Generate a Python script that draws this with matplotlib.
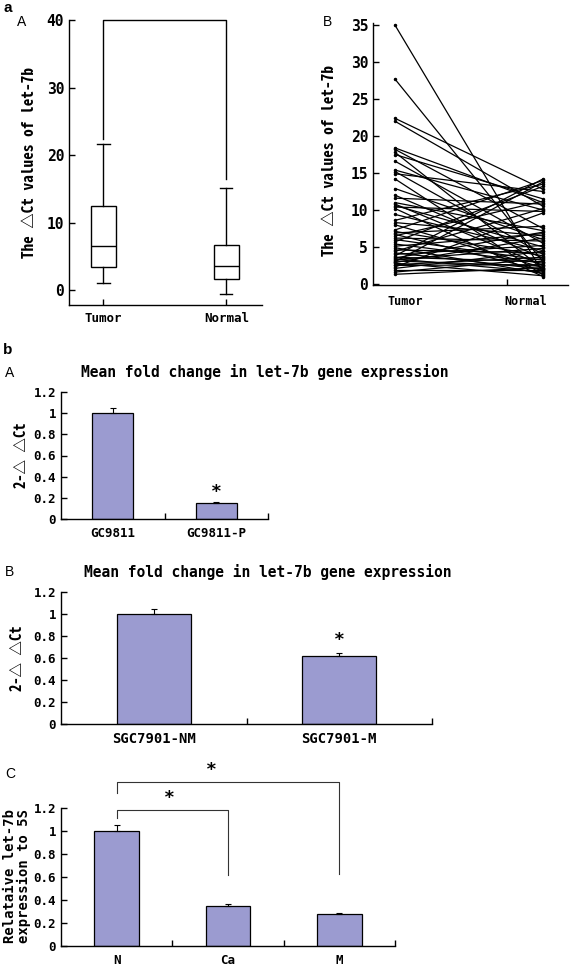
import matplotlib
matplotlib.use('Agg')
import matplotlib.pyplot as plt
import numpy as np

plt.rcParams['font.family'] = ['DejaVu Sans Mono', 'DejaVu Sans']
plt.rcParams['font.weight'] = 'bold'
plt.rcParams['axes.linewidth'] = 1.0

W, H = 570, 968
BAR = '#9b9bd0'
CJK = ['Noto Sans Mono CJK SC', 'Noto Sans CJK SC', 'DejaVu Sans']

# ---- data ----
box_groups = ['Tumor', 'Normal']
box_whislo = [1.0, -0.6]
box_q1 = [3.4, 1.7]
box_med = [6.6, 3.6]
box_q3 = [12.4, 6.7]
box_whishi = [21.7, 15.1]

pair_groups = ['Tumor', 'Normal']
tumor_dct = [35.0, 27.7, 22.4, 22.0, 18.4, 18.2, 17.8, 17.5, 16.6, 15.4,
             15.2, 14.9, 14.2, 12.9, 12.0, 11.6, 11.0, 10.8, 10.6, 10.4,
             10.2, 9.4, 8.6, 8.3, 8.0, 7.3, 7.1, 6.9, 6.7, 6.5,
             6.2, 6.0, 5.7, 5.4, 5.1, 4.9, 4.6, 4.4, 4.2, 4.0,
             3.8, 3.6, 3.5, 3.4, 3.3, 3.1, 3.0, 2.9, 2.8, 2.6,
             2.5, 2.3, 2.1, 1.9, 1.6, 1.3]
normal_dct = [1.5, 3.0, 12.8, 10.5, 11.0, 7.5, 2.0, 11.5, 5.5, 10.0,
              4.0, 12.5, 1.2, 6.0, 3.5, 10.8, 7.2, 2.5, 5.0, 9.8,
              1.0, 4.5, 13.5, 6.5, 2.2, 14.0, 3.8, 7.8, 1.8, 11.2,
              5.8, 3.2, 13.2, 2.8, 6.8, 1.4, 4.2, 10.2, 2.0, 5.2,
              14.2, 3.0, 7.0, 1.6, 4.8, 2.4, 13.8, 6.2, 1.1, 3.6,
              2.6, 9.6, 4.4, 1.9, 3.4, 2.2]

gc_labels = ['GC9811', 'GC9811-P']
gc_mean = [1.0, 0.15]
gc_err = [0.05, 0.01]

sgc_labels = ['SGC7901-NM', 'SGC7901-M']
sgc_mean = [1.0, 0.62]
sgc_err = [0.05, 0.03]

tis_labels = ['N', 'Ca', 'M']
tis_mean = [1.0, 0.35, 0.28]
tis_err = [0.05, 0.015, 0.005]

bar_yticks = [0, 0.2, 0.4, 0.6, 0.8, 1.0, 1.2]
bar_yticklabels = ['0', '0.2', '0.4', '0.6', '0.8', '1', '1.2']

fig = plt.figure(figsize=(W / 100, H / 100), dpi=100)


def axes_px(l, t, r, b):
    return fig.add_axes([l / W, 1 - b / H, (r - l) / W, (b - t) / H])


def ftext(px, py, s, **kw):
    fig.text(px / W, 1 - py / H, s, **kw)


def clean(ax, fs=9):
    for s in ['top', 'right']:
        ax.spines[s].set_visible(False)
    ax.tick_params(direction='in', length=4, width=1, labelsize=fs)


def bar_panel(ax, labels, mean, err, xfs):
    x = np.arange(1, len(labels) + 1)
    ax.bar(x, mean, width=0.4, color=BAR, edgecolor='black', linewidth=0.9)
    ax.errorbar(x, mean, yerr=[np.zeros(len(x)), err], fmt='none',
                ecolor='black', elinewidth=0.8, capsize=2, capthick=0.8)
    ax.set_xlim(0.5, len(x) + 0.5)
    ax.set_ylim(0, 1.2)
    ax.set_yticks(bar_yticks)
    ax.set_yticklabels(bar_yticklabels)
    clean(ax, 9)
    ax.set_xticks(x)
    ax.set_xticklabels(labels, fontsize=xfs)
    ax.tick_params(axis='x', which='major', length=0, pad=6)
    ax.set_xticks(np.arange(1.5, len(x) + 0.6, 1), minor=True)
    ax.tick_params(axis='x', which='minor', direction='in', length=4, width=1)
    return x


# ---- panel a A: box plot ----
ax1 = axes_px(69, 20, 262, 305)
stats = [dict(label=g, whislo=lo, q1=a, med=m, q3=b, whishi=hi, fliers=[])
         for g, lo, a, m, b, hi in zip(box_groups, box_whislo, box_q1,
                                        box_med, box_q3, box_whishi)]
ax1.bxp(stats, positions=[1, 2], widths=0.2, showfliers=False,
        patch_artist=True,
        boxprops=dict(facecolor='white', edgecolor='black', linewidth=1),
        medianprops=dict(color='black', linewidth=1),
        whiskerprops=dict(color='black', linewidth=1),
        capprops=dict(color='black', linewidth=1), capwidths=0.1)
ax1.plot([1, 1, 2, 2], [box_whishi[0] + 0.7, 40, 40, box_whishi[1] + 1.3],
         color='black', lw=1, clip_on=False)
ax1.set_xlim(0.72, 2.29)
ax1.set_ylim(-2.2, 40)
ax1.set_yticks([0, 10, 20, 30, 40])
clean(ax1, 10.5)
ax1.tick_params(axis='x', labelsize=9, pad=5)

# ---- panel a B: paired lines ----
ax2 = axes_px(373, 23, 568, 285)
ax2.plot([0, 1], np.vstack([tumor_dct, normal_dct]), color='black',
         lw=0.9, marker='.', ms=3)
ax2.set_xlim(-0.149, 1.169)
ax2.set_ylim(-0.15, 35.3)
ax2.set_yticks([0, 5, 10, 15, 20, 25, 30, 35])
clean(ax2, 10.5)
ax2.set_xticks([0.07, 0.885])
ax2.set_xticklabels(pair_groups, fontsize=8.5)
ax2.tick_params(axis='x', which='major', length=0, pad=7)
ax2.set_xticks([0.757], minor=True)
ax2.tick_params(axis='x', which='minor', direction='in', length=4, width=1)

# ---- panel b A ----
ax3 = axes_px(61, 392, 268, 519)
x3 = bar_panel(ax3, gc_labels, gc_mean, gc_err, 9)
ax3.text(x3[1], 0.17, '*', ha='center', va='bottom', fontsize=13)

# ---- panel b B ----
ax4 = axes_px(61, 592, 432, 724)
x4 = bar_panel(ax4, sgc_labels, sgc_mean, sgc_err, 10)
ax4.text(x4[1], 0.68, '*', ha='center', va='bottom', fontsize=13)

# ---- panel b C ----
ax5 = axes_px(61, 808, 395, 946)
x5 = bar_panel(ax5, tis_labels, tis_mean, tis_err, 9)
gc = '#333333'
ax5.plot([x5[0], x5[0], x5[1], x5[1]], [1.11, 1.18, 1.18, 0.62],
         color=gc, lw=0.8, clip_on=False)
ax5.plot([x5[0], x5[0], x5[2], x5[2]], [1.33, 1.43, 1.43, 0.63],
         color=gc, lw=0.8, clip_on=False)
ax5.text(1.47, 1.21, '*', ha='center', va='bottom', fontsize=13, clip_on=False)
ax5.text(1.85, 1.45, '*', ha='center', va='bottom', fontsize=13, clip_on=False)

# ---- axis titles / labels ----
ylab = 'The \u25b3Ct values of let-7b'
ftext(30, 162, ylab, rotation=90, ha='center', va='center', fontsize=11,
      family=CJK)
ftext(330, 160, ylab, rotation=90, ha='center', va='center', fontsize=11,
      family=CJK)
ftext(22, 455, '2-\u25b3 \u25b3Ct', rotation=90, ha='center', va='center',
      fontsize=10.5, family=CJK)
ftext(18, 658, '2-\u25b3 \u25b3Ct', rotation=90, ha='center', va='center',
      fontsize=10.5, family=CJK)
ftext(17, 876, 'Relataive let-7b\nexpression to 5S', rotation=90,
      ha='center', va='center', fontsize=10, linespacing=0.95)

title = 'Mean fold change in let-7b gene expression'
ftext(265, 372, title, ha='center', va='center', fontsize=10.5)
ftext(268, 572, title, ha='center', va='center', fontsize=10.5)

# ---- panel letters ----
ftext(3, 8, 'a', ha='left', va='center', fontsize=11, family='Liberation Sans', weight='bold')
ftext(3, 350, 'b', ha='left', va='center', fontsize=11, family='Liberation Sans', weight='bold')
for px, py, s in [(22, 22, 'A'), (328, 22, 'B'), (5, 373, 'A'),
                  (5, 572, 'B'), (5, 774, 'C')]:
    ftext(px, py, s, ha='center' if px > 10 else 'left', va='center',
          fontsize=10, family='Liberation Sans', weight='normal')

fig.savefig('out.png', dpi=100)
